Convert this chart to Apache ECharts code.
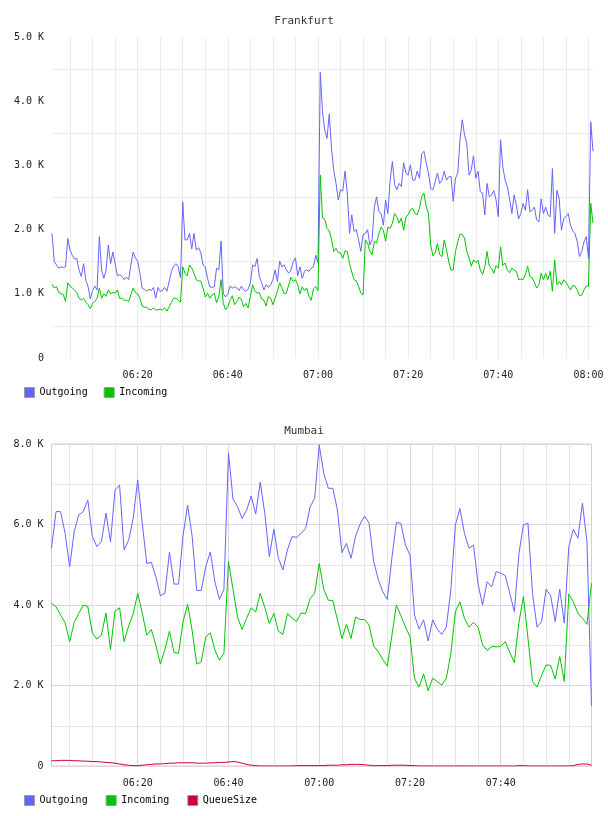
<!DOCTYPE html>
<html>
<head>
<meta charset="utf-8">
<script src="https://cdn.jsdelivr.net/npm/echarts@6/dist/echarts.min.js"></script>
<style>
  html, body { margin: 0; padding: 0; background: #fff; }
  #chart { width: 608px; height: 816px; }
</style>
</head>
<body>
<div id="chart"></div>
<script>
// minutes after 06:00; Frankfurt sampled every 30 s, Mumbai every minute
const frankfurtStartMin = 1;
const frankfurtStepMin = 0.5;
const mumbaiStartMin = 1;
const mumbaiStepMin = 1;

// values in thousands
const frankfurtOutgoing = [
  1.94,1.50,1.45,1.40,1.42,1.41,1.42,1.86,1.68,1.60,
  1.54,1.55,1.37,1.27,1.47,1.21,1.11,0.92,1.05,1.12,
  1.06,1.89,1.37,1.24,1.37,1.76,1.47,1.65,1.47,1.28,
  1.30,1.27,1.22,1.26,1.22,1.45,1.65,1.56,1.51,1.32,
  1.09,1.07,1.04,1.07,1.05,1.10,0.93,1.10,1.04,1.05,
  1.10,1.04,1.20,1.35,1.43,1.47,1.42,1.25,2.43,1.84,
  1.84,1.94,1.70,1.94,1.68,1.72,1.64,1.45,1.42,1.24,
  1.11,1.10,1.11,1.40,1.37,1.82,1.00,0.95,1.00,1.12,
  1.09,1.11,1.09,1.05,1.12,1.06,1.04,1.07,1.17,1.45,
  1.42,1.55,1.27,1.17,1.06,1.14,1.10,1.14,1.22,1.37,
  1.19,1.51,1.42,1.45,1.37,1.32,1.37,1.50,1.56,1.28,
  1.42,1.24,1.35,1.37,1.35,1.40,1.42,1.60,1.48,4.45,
  3.84,3.55,3.42,3.80,3.26,2.92,2.72,2.46,2.62,2.60,
  2.91,2.57,1.94,2.23,1.97,2.00,1.84,1.66,1.92,1.94,
  2.00,1.76,1.84,2.36,2.51,2.28,2.25,2.07,2.46,2.25,
  2.77,3.06,2.70,2.62,2.72,2.67,3.04,2.88,2.85,3.01,
  2.77,2.77,2.91,2.80,3.18,3.22,3.04,2.88,2.64,2.62,
  2.75,2.88,2.72,2.77,2.91,2.77,2.82,2.83,2.44,2.80,
  2.88,3.40,3.71,3.48,3.34,2.85,2.93,3.15,2.80,2.91,
  2.59,2.57,2.23,2.72,2.51,2.54,2.61,2.46,2.20,3.40,
  2.98,2.77,2.67,2.48,2.25,2.54,2.38,2.17,2.25,2.41,
  2.30,2.62,2.28,2.30,2.35,2.15,2.12,2.48,2.25,2.35,
  2.23,2.20,2.95,1.94,2.61,2.48,1.99,2.17,2.20,2.25,
  2.07,1.98,1.94,1.81,1.58,1.66,1.81,1.89,1.55,3.68,
  3.22
];
const frankfurtIncoming = [
  1.15,1.09,1.11,1.02,1.00,0.99,0.88,1.17,1.12,1.09,
  1.06,1.02,0.93,0.90,0.93,0.87,0.83,0.77,0.85,0.88,
  0.93,1.09,0.93,1.00,0.96,1.06,1.00,1.02,1.01,1.06,
  0.93,0.93,0.90,0.90,0.88,0.99,1.09,1.02,1.00,0.93,
  0.81,0.79,0.79,0.76,0.75,0.78,0.75,0.75,0.76,0.75,
  0.78,0.73,0.80,0.87,0.93,0.93,0.90,0.87,1.42,1.32,
  1.28,1.45,1.40,1.32,1.22,1.20,1.20,1.09,0.95,1.01,
  0.93,0.98,1.01,0.86,0.96,1.22,0.85,0.75,0.80,0.90,
  0.97,0.83,0.88,0.95,0.91,0.80,0.85,0.78,0.96,1.14,
  1.04,1.01,1.02,0.92,0.90,0.81,0.96,0.93,0.83,0.93,
  1.04,1.17,1.09,1.00,1.01,1.14,1.26,1.19,1.22,1.14,
  1.00,1.11,1.05,1.09,0.96,0.90,1.08,1.11,1.05,2.85,
  2.18,2.16,2.02,1.98,1.85,1.66,1.71,1.64,1.64,1.55,
  1.67,1.66,1.47,1.34,1.22,1.20,1.12,1.01,0.98,1.84,
  1.79,1.66,1.61,1.82,1.79,1.94,2.04,1.99,1.82,2.04,
  2.02,2.10,2.25,2.20,2.10,2.18,1.99,2.20,2.23,2.31,
  2.33,2.25,2.23,2.33,2.51,2.57,2.36,2.25,1.76,1.59,
  1.64,1.78,1.61,1.58,1.84,1.69,1.50,1.37,1.37,1.66,
  1.81,1.93,1.92,1.87,1.66,1.56,1.43,1.53,1.49,1.52,
  1.37,1.30,1.42,1.66,1.43,1.40,1.32,1.44,1.40,1.73,
  1.44,1.48,1.37,1.33,1.40,1.37,1.35,1.22,1.23,1.22,
  1.30,1.43,1.27,1.25,1.18,1.09,1.14,1.32,1.22,1.32,
  1.22,1.35,1.04,1.53,1.14,1.19,1.14,1.22,1.18,1.12,
  1.06,1.13,1.12,1.06,0.97,0.98,1.06,1.12,1.12,2.41,
  2.10
];

const mumbaiOutgoing = [
  5.41,6.32,6.32,5.78,4.95,5.82,6.24,6.32,6.61,5.70,
  5.45,5.57,6.28,5.57,6.86,6.98,5.37,5.61,6.15,7.11,
  6.03,5.03,5.06,4.70,4.23,4.29,5.32,4.52,4.52,5.74,
  6.48,5.70,4.36,4.36,4.95,5.32,4.58,4.14,4.39,7.78,
  6.63,6.44,6.15,6.36,6.71,6.26,7.05,6.28,5.20,5.88,
  5.16,4.87,5.37,5.70,5.68,5.78,5.90,6.44,6.65,7.98,
  7.27,6.90,6.90,6.36,5.30,5.53,5.16,5.70,6.01,6.21,
  6.03,5.08,4.64,4.33,4.14,5.16,6.05,6.03,5.49,5.24,
  3.75,3.40,3.63,3.11,3.63,3.40,3.27,3.45,4.37,5.99,
  6.40,5.78,5.41,5.49,4.52,4.00,4.58,4.45,4.83,4.79,
  4.73,4.29,3.83,5.27,5.99,6.03,4.29,3.45,3.59,4.39,
  4.23,3.59,4.39,3.55,5.45,5.88,5.66,6.53,5.57,1.49
];
const mumbaiIncoming = [
  4.04,3.96,3.75,3.56,3.09,3.56,3.79,4.00,3.96,3.31,
  3.15,3.25,3.80,2.90,3.85,3.93,3.09,3.48,3.78,4.29,
  3.80,3.25,3.39,3.00,2.53,2.90,3.35,2.82,2.80,3.59,
  4.02,3.36,2.53,2.59,3.21,3.31,2.88,2.63,2.80,5.08,
  4.39,3.70,3.39,3.67,3.93,3.83,4.29,3.94,3.54,3.79,
  3.35,3.27,3.79,3.68,3.59,3.80,3.79,4.16,4.29,5.03,
  4.39,4.12,4.11,3.64,3.17,3.52,3.17,3.70,3.64,3.64,
  3.50,2.98,2.84,2.65,2.48,3.23,4.00,3.73,3.46,3.21,
  2.18,1.96,2.29,1.87,2.18,2.10,2.01,2.18,2.78,3.83,
  4.08,3.67,3.45,3.57,3.45,3.01,2.87,2.97,2.96,2.97,
  3.09,2.82,2.57,3.56,4.21,3.17,2.10,1.96,2.25,2.51,
  2.50,2.16,2.72,2.10,4.27,4.08,3.80,3.67,3.52,4.54
];
const mumbaiQueueSize = [
  0.13,0.13,0.14,0.14,0.14,0.13,0.13,0.12,0.12,0.11,
  0.11,0.10,0.09,0.08,0.07,0.05,0.03,0.02,0.01,0.01,
  0.02,0.03,0.04,0.05,0.05,0.06,0.07,0.07,0.08,0.08,
  0.08,0.08,0.07,0.07,0.07,0.08,0.08,0.09,0.09,0.10,
  0.11,0.10,0.07,0.04,0.02,0.01,0.00,0.00,0.00,0.00,
  0.00,0.00,0.00,0.00,0.01,0.01,0.01,0.01,0.01,0.01,
  0.01,0.02,0.02,0.02,0.03,0.03,0.04,0.04,0.04,0.03,
  0.02,0.01,0.01,0.01,0.01,0.02,0.02,0.02,0.02,0.01,
  0.01,0.00,0.00,0.00,0.00,0.00,0.00,0.00,0.00,0.00,
  0.00,0.00,0.00,0.00,0.00,0.00,0.00,0.00,0.00,0.00,
  0.00,0.00,0.00,0.01,0.01,0.00,0.00,0.00,0.00,0.00,
  0.00,0.00,0.00,0.00,0.00,0.01,0.04,0.05,0.05,0.02
];

// grid lines every 5 minutes, labels every 20
const fiveMinuteLines = [5,10,15,20,25,30,35,40,45,50,55,60,65,70,75,80,85,90,95,100,105,110,115,120];
const frankfurtLabelMinutes = [20,40,60,80,100,120];
const mumbaiMinorMinutes = [5,10,15,25,30,35,45,50,55,65,70,75,85,90,95,105,110,115];
const mumbaiMajorMinutes = [20,40,60,80,100];

const FONT = "DejaVu Sans Mono";
const BLUE = "#6464ff";
const GREEN = "#00c400";
const RED = "#cc0033";

const clock = (m) => {
  const h = 6 + Math.floor(m / 60);
  const mm = Math.round(m % 60);
  return String(h).padStart(2, "0") + ":" + String(mm).padStart(2, "0");
};
const kilo = (v) => (v === 0 ? "0" : v.toFixed(1) + " K");

const toPoints = (values, start, step) => values.map((v, i) => [start + i * step, v]);

const labelStyle = { fontFamily: FONT, fontSize: 10, color: "#222" };

const chart = echarts.init(document.getElementById("chart"));
chart.setOption({
  animation: false,
  title: [
    { text: "Frankfurt", left: "center", top: 11,
      textStyle: { fontFamily: FONT, fontSize: 11, fontWeight: "normal", color: "#333" } },
    { text: "Mumbai", left: "center", top: 421,
      textStyle: { fontFamily: FONT, fontSize: 11, fontWeight: "normal", color: "#333" } },
  ],
  legend: [
    { data: ["Outgoing", "Incoming"], left: 24, top: 387, padding: 0,
      icon: "rect", itemWidth: 10, itemHeight: 10, itemGap: 16,
      itemStyle: { borderColor: "#999", borderWidth: 1 },
      textStyle: { fontFamily: FONT, fontSize: 10, color: "#000" } },
    { data: ["Outgoing", "Incoming", "QueueSize"], left: 24, top: 795, padding: 0,
      icon: "rect", itemWidth: 10, itemHeight: 10, itemGap: 18,
      itemStyle: { borderColor: "#999", borderWidth: 1 },
      textStyle: { fontFamily: FONT, fontSize: 10, color: "#000" } },
  ],
  grid: [
    { left: 52, top: 37, width: 541, height: 321 },
    { left: 51.5, top: 444, width: 540, height: 322, show: true,
      borderColor: "#dcc8dc", borderWidth: 1, backgroundColor: "transparent" },
  ],
  xAxis: [
    { gridIndex: 0, type: "value", min: 1, max: 121,
      axisLine: { show: false },
      axisTick: { show: false, customValues: fiveMinuteLines },
      splitLine: { show: true, lineStyle: { color: "#ebebeb", width: 1 } },
      axisLabel: { customValues: frankfurtLabelMinutes, formatter: clock, margin: 12, ...labelStyle } },
    { gridIndex: 1, type: "value", min: 1, max: 120,
      axisLine: { show: false },
      axisTick: { show: false, customValues: mumbaiMinorMinutes },
      splitLine: { show: true, lineStyle: { color: "#e6e6e6", width: 1 } },
      axisLabel: { show: false } },
    { gridIndex: 1, type: "value", min: 1, max: 120, position: "bottom",
      axisLine: { show: false },
      axisTick: { show: false, customValues: mumbaiMajorMinutes },
      splitLine: { show: true, lineStyle: { color: "#e6d0e6", width: 1 } },
      axisLabel: { customValues: mumbaiMajorMinutes, formatter: clock, margin: 12, ...labelStyle } },
  ],
  yAxis: [
    { gridIndex: 0, type: "value", min: 0, max: 5, interval: 1,
      axisLine: { show: false }, axisTick: { show: false },
      splitLine: { show: false },
      minorTick: { show: false, splitNumber: 2 },
      minorSplitLine: { show: true, lineStyle: { color: "#ebebeb", width: 1 } },
      axisLabel: { formatter: kilo, margin: 8, ...labelStyle } },
    { gridIndex: 1, type: "value", min: 0, max: 8, interval: 2,
      axisLine: { show: false }, axisTick: { show: false },
      splitLine: { show: true, lineStyle: { color: "#e6d0e6", width: 1 } },
      minorTick: { show: false, splitNumber: 2 },
      minorSplitLine: { show: true, lineStyle: { color: "#e6e6e6", width: 1 } },
      axisLabel: { formatter: kilo, margin: 8, ...labelStyle } },
  ],
  series: [
    { name: "Outgoing", type: "line", xAxisIndex: 0, yAxisIndex: 0, showSymbol: false,
      data: toPoints(frankfurtOutgoing, frankfurtStartMin, frankfurtStepMin),
      lineStyle: { color: BLUE, width: 1 }, itemStyle: { color: BLUE } },
    { name: "Incoming", type: "line", xAxisIndex: 0, yAxisIndex: 0, showSymbol: false,
      data: toPoints(frankfurtIncoming, frankfurtStartMin, frankfurtStepMin),
      lineStyle: { color: GREEN, width: 1 }, itemStyle: { color: GREEN } },
    { name: "Outgoing", type: "line", xAxisIndex: 1, yAxisIndex: 1, showSymbol: false,
      data: toPoints(mumbaiOutgoing, mumbaiStartMin, mumbaiStepMin),
      lineStyle: { color: BLUE, width: 1 }, itemStyle: { color: BLUE } },
    { name: "Incoming", type: "line", xAxisIndex: 1, yAxisIndex: 1, showSymbol: false,
      data: toPoints(mumbaiIncoming, mumbaiStartMin, mumbaiStepMin),
      lineStyle: { color: GREEN, width: 1 }, itemStyle: { color: GREEN } },
    { name: "QueueSize", type: "line", xAxisIndex: 1, yAxisIndex: 1, showSymbol: false,
      data: toPoints(mumbaiQueueSize, mumbaiStartMin, mumbaiStepMin),
      lineStyle: { color: RED, width: 1 }, itemStyle: { color: RED } },
  ],
});
</script>
</body>
</html>
